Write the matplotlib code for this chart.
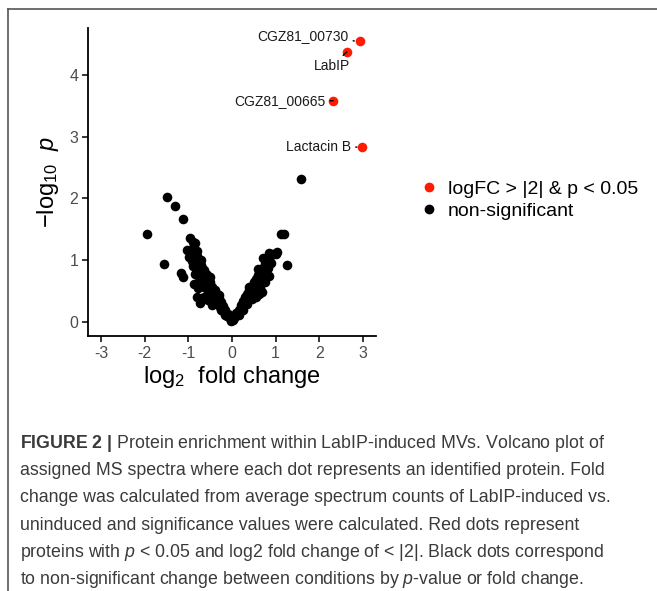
import matplotlib
matplotlib.use("Agg")
import matplotlib.pyplot as plt
from matplotlib.lines import Line2D

# =========================
# 1. Data
# =========================
sig_x = [2.93, 2.63, 2.32, 2.99]
sig_y = [4.54, 4.37, 3.58, 2.83]
sig_labels = ["CGZ81_00730", "LabIP", "CGZ81_00665", "Lactacin B"]
label_x = [2.68, 2.29, 2.15, 2.74]
label_y = [4.62, 4.14, 3.58, 2.83]
label_ha = ["right", "center", "right", "right"]

ns_x = [
    # left arm
    -0.02, -0.05, -0.08, -0.10, -0.12, -0.15, -0.17, -0.20, -0.22, -0.25,
    -0.27, -0.30, -0.32, -0.35, -0.37, -0.40, -0.42, -0.45, -0.47, -0.50,
    -0.52, -0.55, -0.57, -0.60, -0.62, -0.65, -0.67, -0.70, -0.72, -0.75,
    -0.77, -0.80, -0.82, -0.85, -0.60, -0.50, -0.40, -0.30, -0.20,
    -0.15, -0.25, -0.35, -0.45, -0.55, -0.65, -0.75, -0.85, -0.90, -0.95,
    -0.90, -0.30, -0.50, -0.70, -0.80,
    -0.96, -0.84, -1.03, -0.88, -1.17, -1.12, -0.88, -0.81, -0.73, -0.69,
    -0.58, -0.92, -0.78, -0.65, -0.55, -0.45, -0.98, -0.90,
    -1.95, -1.55, -1.48, -1.30, -1.12,
    # right arm
    0.02, 0.05, 0.08, 0.10, 0.12, 0.15, 0.18, 0.20, 0.23, 0.25,
    0.28, 0.30, 0.33, 0.35, 0.38, 0.40, 0.43, 0.45, 0.48, 0.50,
    0.53, 0.55, 0.58, 0.60, 0.63, 0.65, 0.68, 0.70, 0.73, 0.75,
    0.78, 0.80, 0.30, 0.40, 0.50,
    0.15, 0.25, 0.35, 0.45, 0.55, 0.65, 0.75, 0.85, 0.90, 1.00,
    0.85, 0.60, 0.40,
    0.68, 0.62, 0.55, 0.83, 0.87, 0.72, 1.04, 0.95, 1.13, 1.19,
    1.25, 1.58,
]
ns_y = [
    # left arm
    0.02, 0.06, 0.08, 0.13, 0.10, 0.19, 0.15, 0.26, 0.21, 0.32,
    0.25, 0.38, 0.30, 0.45, 0.36, 0.51, 0.42, 0.57, 0.47, 0.64,
    0.52, 0.70, 0.58, 0.77, 0.65, 0.84, 0.72, 0.92, 0.80, 0.99,
    0.88, 1.06, 0.95, 1.13, 0.62, 0.48, 0.38, 0.27, 0.17,
    0.12, 0.20, 0.30, 0.38, 0.47, 0.56, 0.66, 0.78, 0.90, 1.10,
    1.30, 0.44, 0.72, 1.00, 1.15,
    1.36, 1.27, 1.17, 1.06, 0.79, 0.73, 0.62, 0.41, 0.30, 0.87,
    0.76, 0.98, 0.55, 0.40, 0.35, 0.28, 1.05, 1.20,
    1.42, 0.94, 2.02, 1.88, 1.67,
    # right arm
    0.03, 0.07, 0.10, 0.14, 0.11, 0.20, 0.17, 0.27, 0.22, 0.34,
    0.28, 0.40, 0.33, 0.46, 0.38, 0.52, 0.43, 0.58, 0.48, 0.64,
    0.53, 0.70, 0.58, 0.76, 0.64, 0.82, 0.70, 0.88, 0.76, 0.94,
    0.82, 1.00, 0.30, 0.37, 0.44,
    0.12, 0.20, 0.29, 0.37, 0.46, 0.55, 0.65, 0.75, 0.95, 1.10,
    1.12, 0.85, 0.57,
    0.49, 0.45, 0.40, 0.87, 1.06, 1.03, 1.14, 1.10, 1.42, 1.42,
    0.93, 2.31,
]

x_ticks = [-3, -2, -1, 0, 1, 2, 3]
y_ticks = [0, 1, 2, 3, 4]
legend_labels = ["logFC > |2| & p < 0.05", "non-significant"]

caption_lines = [
    r"$\bf{FIGURE\ 2\ |}$ Protein enrichment within LabIP-induced MVs. Volcano plot of",
    "assigned MS spectra where each dot represents an identified protein. Fold",
    "change was calculated from average spectrum counts of LabIP-induced vs.",
    "uninduced and significance values were calculated. Red dots represent",
    r"proteins with $\it{p}$ < 0.05 and log2 fold change of < |2|. Black dots correspond",
    r"to non-significant change between conditions by $\it{p}$-value or fold change.",
]

# =========================
# 2. Style
# =========================
plt.rcParams["font.family"] = ["Liberation Sans", "DejaVu Sans"]
plt.rcParams["mathtext.fontset"] = "custom"
plt.rcParams["mathtext.rm"] = "Liberation Sans"
plt.rcParams["mathtext.it"] = "Liberation Sans:italic"
plt.rcParams["mathtext.bf"] = "Liberation Sans:bold"
plt.rcParams["axes.unicode_minus"] = False

W, H = 657, 591


def fx(px):
    return px / W


def fy(py):
    return 1 - py / H


fig = plt.figure(figsize=(W / 100, H / 100), dpi=100)
ax = fig.add_axes([fx(88), fy(336), fx(376) - fx(88), fy(28) - fy(336)])

# =========================
# 3. Points
# =========================
ax.scatter(ns_x, ns_y, s=48, color="black", linewidths=0, zorder=2)
ax.scatter(sig_x, sig_y, s=48, color="#ff1a00", linewidths=0, zorder=3)

for lab, tx, ty, ha, px, py in zip(sig_labels, label_x, label_y, label_ha, sig_x, sig_y):
    ax.annotate(lab, xy=(px, py), xytext=(tx, ty), ha=ha, va="center",
                fontsize=10, color="#1a1a1a",
                arrowprops=dict(arrowstyle="-", color="black", lw=1,
                                shrinkA=1, shrinkB=4))

# =========================
# 4. Axes
# =========================
ax.set_xlim(-3.3, 3.3)
ax.set_ylim(-0.227, 4.757)
ax.set_xticks(x_ticks)
ax.set_yticks(y_ticks)
for s in ["top", "right"]:
    ax.spines[s].set_visible(False)
for s in ["left", "bottom"]:
    ax.spines[s].set_linewidth(1.3)
ax.tick_params(length=4, width=1.1, labelsize=11.5, labelcolor="#4d4d4d", pad=3)

ax.set_xlabel(r"log$_2$  fold change", fontsize=17, color="black", labelpad=2)
ax.set_ylabel(r"$-$log$_{10}$  $\it{p}$", fontsize=17, color="black", labelpad=6)

handles = [
    Line2D([], [], marker="o", ls="", color="#ff1a00", markersize=6),
    Line2D([], [], marker="o", ls="", color="black", markersize=6),
]
fig.legend(handles, legend_labels, loc="center left",
           bbox_to_anchor=(fx(410), fy(200)), frameon=False,
           fontsize=14, handletextpad=0.45, labelspacing=0.2,
           handlelength=1.0, borderpad=0)

# =========================
# 5. Frame and caption
# =========================
fig.add_artist(Line2D([fx(8), fx(8)], [fy(9), 0], color="#555555", lw=1.2))
fig.add_artist(Line2D([fx(8), 1], [fy(9), fy(9)], color="#555555", lw=1.2))

for i, line in enumerate(caption_lines):
    fig.text(fx(20), fy(443 + i * 27.4), line, fontsize=12.8,
             color="#3a3a3a", va="center", ha="left")

fig.savefig("out.png", dpi=100)
